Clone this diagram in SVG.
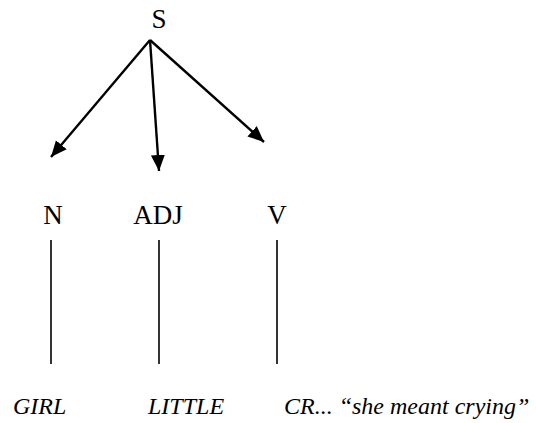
<svg xmlns="http://www.w3.org/2000/svg" width="536" height="423" viewBox="0 0 536 423">
<style>
.lbl{font-family:"Liberation Serif","Times New Roman",serif;font-size:27px;fill:#000;text-anchor:middle}
.word{font-family:"Liberation Serif","Times New Roman",serif;font-size:24px;font-style:italic;fill:#000}
.arr{stroke:#000;stroke-width:2.4;fill:none;marker-end:url(#ah)}
.ln{stroke:#000;stroke-width:1.6}
</style>
<defs>
<marker id="ah" markerUnits="userSpaceOnUse" markerWidth="18" markerHeight="16" refX="16" refY="7" orient="auto">
<path d="M0,0 L16,7 L0,14 z" fill="#000"/>
</marker>
</defs>
<g id="node-S"><text class="lbl" x="159" y="28">S</text></g>
<g id="node-N"><text class="lbl" x="53" y="224">N</text></g>
<g id="node-ADJ"><text class="lbl" x="158" y="224">ADJ</text></g>
<g id="node-V"><text class="lbl" x="277" y="224">V</text></g>
<g id="node-GIRL"><text class="word" x="13" y="414">GIRL</text></g>
<g id="node-LITTLE"><text class="word" x="148" y="414">LITTLE</text></g>
<g id="node-CR"><text class="word" x="284" y="414">CR... “she meant crying”</text></g>
<g id="connectors">
<line class="arr" x1="150" y1="40" x2="51" y2="157"/>
<line class="arr" x1="150" y1="40" x2="159" y2="171"/>
<line class="arr" x1="150" y1="40" x2="264" y2="142"/>
<line class="ln" x1="51" y1="240" x2="51" y2="364"/>
<line class="ln" x1="159" y1="240" x2="159" y2="364"/>
<line class="ln" x1="277" y1="240" x2="277" y2="364"/>
</g>
</svg>
